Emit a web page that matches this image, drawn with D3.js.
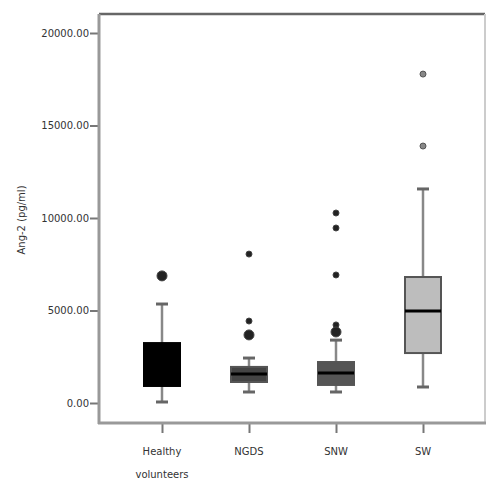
<!DOCTYPE html>
<html>
<head>
<meta charset="utf-8">
<script src="https://cdn.jsdelivr.net/npm/d3@7"></script>
<style>
  body { margin: 0; background: #fff; }
  text { font-family: "DejaVu Sans", sans-serif; fill: #333; }
</style>
</head>
<body>
<div id="container"></div>
<script>
// categories and box stats (pg/ml)
var groups = ["Healthy volunteers", "NGDS", "SNW", "SW"];
var q1 = [920, 1135, 975, 2700];
var median = [1800, 1570, 1620, 4970];
var q3 = [3240, 1950, 2215, 6810];
var whiskerLow = [55, 595, 595, 865];
var whiskerHigh = [5350, 2430, 3400, 11570];
var outliers = [
  [6870],
  [8050, 4430, 3680],
  [10270, 9460, 6920, 4220, 3840],
  [17780, 13890]
];
var bigOutliers = [
  [6870],
  [3680],
  [3840],
  []
];
var boxFill = ["#000", "#444", "#555", "#bdbdbd"];
var yTicks = [0, 5000, 10000, 15000, 20000];

const width = 500;
const height = 500;
const frameL = 99, frameR = 485, frameT = 14, frameB = 423;

const svg = d3.select("div#container").append("svg")
    .attr("width", width)
    .attr("height", height);

//----------------------------SCALES----------------------------//
const yScale = d3.scaleLinear().domain([0, 20000]).range([403, 33]);
const xScale = d3.scalePoint().domain(groups).range([162, 423]);

//-----------------------------FRAME----------------------------//
svg.append("line").attr("x1", frameL).attr("x2", frameR).attr("y1", frameT).attr("y2", frameT)
    .attr("stroke", "#666").attr("stroke-width", 2.5);
svg.append("line").attr("x1", frameR).attr("x2", frameR).attr("y1", frameT).attr("y2", frameB)
    .attr("stroke", "#ccc").attr("stroke-width", 2);

//-----------------------------AXES-----------------------------//
const yaxis = d3.axisLeft(yScale)
    .tickValues(yTicks)
    .tickFormat(d3.format(".2f"))
    .tickSize(9)
    .tickSizeOuter(0);

const gy = svg.append("g")
    .attr("transform", "translate(" + frameL + ",0)")
    .call(yaxis);
gy.select(".domain").remove();
gy.selectAll(".tick line").attr("stroke", "#777").attr("stroke-width", 2);
gy.selectAll(".tick text").attr("font-size", 10).attr("x", -10).attr("fill", "#333");

svg.append("line").attr("x1", frameL).attr("x2", frameL).attr("y1", frameT).attr("y2", frameB + 1)
    .attr("stroke", "#999").attr("stroke-width", 3);

const xaxis = d3.axisBottom(xScale).tickSize(10).tickSizeOuter(0).tickFormat("");
const gx = svg.append("g")
    .attr("transform", "translate(0," + frameB + ")")
    .call(xaxis);
gx.select(".domain").remove();
gx.selectAll(".tick line").attr("stroke", "#777").attr("stroke-width", 2);

svg.append("line").attr("x1", frameL - 1).attr("x2", frameR + 1).attr("y1", frameB).attr("y2", frameB)
    .attr("stroke", "#999").attr("stroke-width", 3);

// category labels, wrapped
groups.forEach(function(g) {
  var t = svg.append("text")
      .attr("x", xScale(g))
      .attr("y", 455)
      .attr("text-anchor", "middle")
      .attr("font-size", 10)
      .attr("fill", "#333");
  g.split(" ").forEach(function(w, i) {
    t.append("tspan").attr("x", xScale(g)).attr("dy", i ? 23 : 0).text(w);
  });
});

svg.append("text")
    .attr("transform", "translate(25,220) rotate(-90)")
    .attr("text-anchor", "middle")
    .attr("font-size", 10)
    .attr("fill", "#333")
    .text("Ang-2 (pg/ml)");

//----------------------------BOXES-----------------------------//
const boxW = 36, capW = 12;
const boxes = svg.selectAll("g.box")
    .data(groups)
    .enter()
    .append("g")
    .attr("class", "box");

boxes.append("line")
    .attr("x1", function(d) { return xScale(d); })
    .attr("x2", function(d) { return xScale(d); })
    .attr("y1", function(d, i) { return yScale(whiskerLow[i]); })
    .attr("y2", function(d, i) { return yScale(whiskerHigh[i]); })
    .attr("stroke", "#888").attr("stroke-width", 2.5);

boxes.selectAll("line.cap")
    .data(function(d, i) { return [{g: d, v: whiskerLow[i]}, {g: d, v: whiskerHigh[i]}]; })
    .enter()
    .append("line")
    .attr("class", "cap")
    .attr("x1", function(d) { return xScale(d.g) - capW / 2; })
    .attr("x2", function(d) { return xScale(d.g) + capW / 2; })
    .attr("y1", function(d) { return yScale(d.v); })
    .attr("y2", function(d) { return yScale(d.v); })
    .attr("stroke", "#666").attr("stroke-width", 3);

boxes.append("rect")
    .attr("x", function(d) { return xScale(d) - boxW / 2; })
    .attr("width", boxW)
    .attr("y", function(d, i) { return yScale(q3[i]); })
    .attr("height", function(d, i) { return yScale(q1[i]) - yScale(q3[i]); })
    .attr("fill", function(d, i) { return boxFill[i]; })
    .attr("stroke", function(d, i) { return i === 0 ? "#000" : "#555"; })
    .attr("stroke-width", 2);

boxes.append("line")
    .attr("x1", function(d) { return xScale(d) - boxW / 2; })
    .attr("x2", function(d) { return xScale(d) + boxW / 2; })
    .attr("y1", function(d, i) { return yScale(median[i]); })
    .attr("y2", function(d, i) { return yScale(median[i]); })
    .attr("stroke", "#000").attr("stroke-width", 3);

//---------------------------POINTS-----------------------------//
boxes.selectAll("circle.out")
    .data(function(d, i) { return outliers[i].map(function(v) { return {g: d, v: v, i: i}; }); })
    .enter()
    .append("circle")
    .attr("class", "out")
    .attr("cx", function(d) { return xScale(d.g); })
    .attr("cy", function(d) { return yScale(d.v); })
    .attr("r", function(d) { return bigOutliers[d.i].indexOf(d.v) >= 0 ? 5 : 3; })
    .attr("fill", function(d) { return d.i === 3 ? "#888" : "#222"; })
    .attr("stroke", function(d) { return d.i === 3 ? "#555" : "#444"; })
    .attr("stroke-width", 1);
</script>
</body>
</html>
